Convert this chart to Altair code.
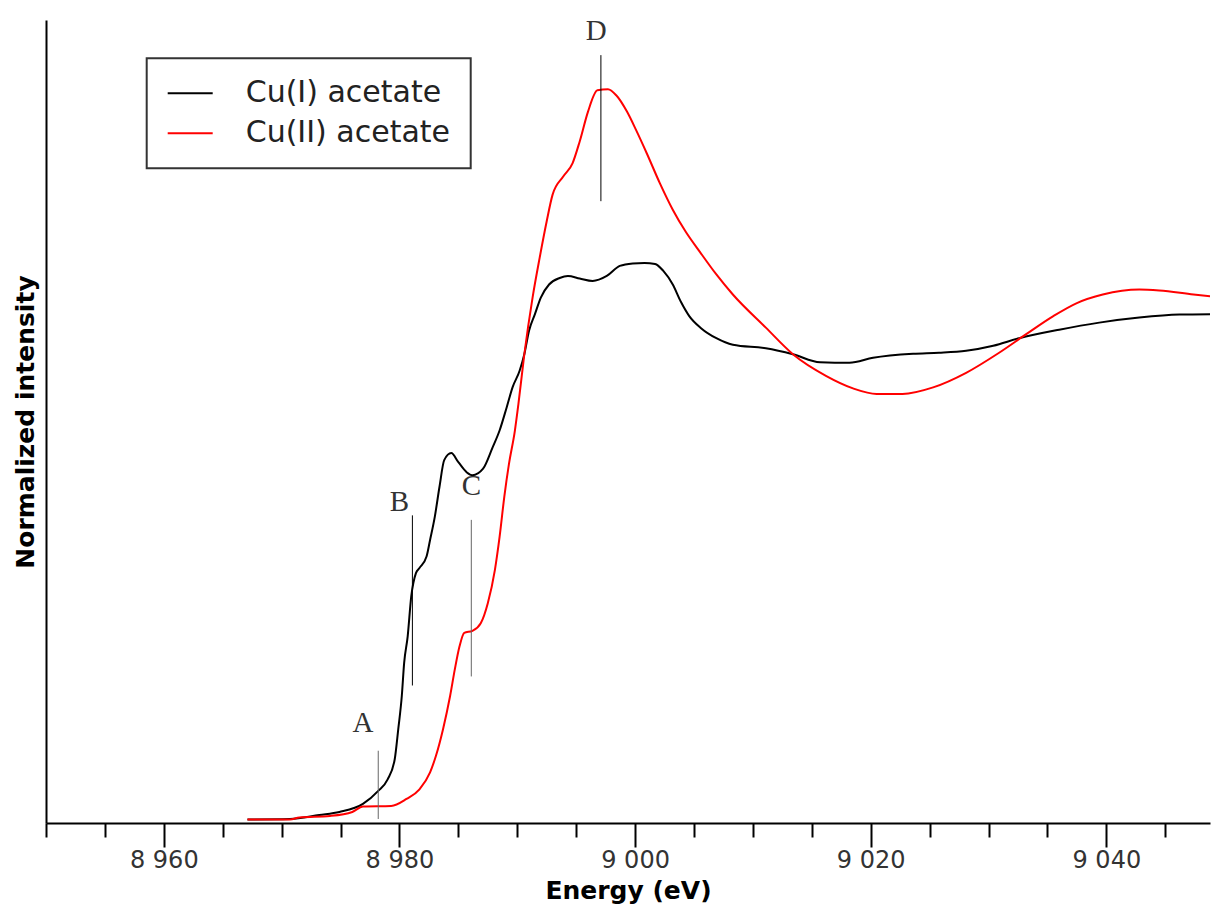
import altair as alt
import pandas as pd

# Cu(I) acetate spectrum (energy in eV, normalized intensity)
cu1_energy = [8967.1, 8970.7, 8973.2, 8974.9, 8976.9, 8978.2, 8979.0, 8979.6, 8979.9, 8980.2,
              8980.4, 8980.7, 8981.0, 8981.4, 8981.7, 8982.3, 8982.6, 8983.0, 8983.4, 8983.8,
              8984.4, 8985.0, 8985.7, 8986.2, 8987.1, 8987.9, 8988.5, 8989.1, 8989.6, 8990.2,
              8990.6, 8991.0, 8991.5, 8992.0, 8992.7, 8993.6, 8994.3, 8995.3, 8996.4, 8997.6,
              8998.7, 8999.8, 9000.8, 9001.7, 9002.4, 9003.2, 9003.9, 9004.6, 9005.6, 9006.9,
              9008.3, 9011.1, 9013.4, 9015.7, 9018.2, 9020.2, 9023.6, 9025.8, 9028.1, 9030.4,
              9032.6, 9036.0, 9039.4, 9042.8, 9046.2, 9049.5]
cu1_intensity = [0.007, 0.008, 0.016, 0.022, 0.038, 0.064, 0.087, 0.127, 0.187, 0.253,
                 0.319, 0.372, 0.451, 0.498, 0.508, 0.531, 0.564, 0.610, 0.670, 0.723,
                 0.737, 0.719, 0.699, 0.693, 0.706, 0.748, 0.782, 0.828, 0.868, 0.901,
                 0.934, 0.981, 1.014, 1.047, 1.073, 1.086, 1.090, 1.085, 1.080, 1.090,
                 1.110, 1.115, 1.116, 1.114, 1.100, 1.073, 1.038, 1.010, 0.986, 0.966,
                 0.953, 0.946, 0.934, 0.918, 0.917, 0.927, 0.935, 0.937, 0.941, 0.951,
                 0.966, 0.983, 0.997, 1.007, 1.013, 1.014]

# Cu(II) acetate spectrum
cu2_energy = [8967.1, 8970.7, 8971.5, 8974.1, 8976.0, 8976.9, 8979.3, 8980.6, 8981.7, 8982.6,
              8983.1, 8983.7, 8984.3, 8984.7, 8985.1, 8985.5, 8986.2, 8986.9, 8987.5, 8988.1,
              8988.5, 8988.9, 8989.3, 8989.8, 8990.1, 8990.6, 8991.3, 8991.9, 8992.5, 8993.0,
              8993.9, 8994.7, 8995.3, 8996.0, 8996.8, 8997.7, 8998.4, 8999.3, 9000.1, 9001.0,
              9002.1, 9003.2, 9004.3, 9005.5, 9006.9, 9008.3, 9011.1, 9013.4, 9016.2, 9018.5,
              9020.5, 9022.7, 9025.3, 9028.1, 9030.9, 9033.2, 9035.5, 9037.5, 9039.7, 9042.8,
              9044.5, 9047.4, 9049.5]
cu2_intensity = [0.007, 0.007, 0.011, 0.014, 0.022, 0.033, 0.034, 0.048, 0.067, 0.101,
                 0.134, 0.187, 0.253, 0.306, 0.352, 0.379, 0.383, 0.398, 0.438, 0.504,
                 0.570, 0.650, 0.716, 0.782, 0.835, 0.934, 1.047, 1.126, 1.199, 1.252,
                 1.288, 1.315, 1.358, 1.417, 1.460, 1.462, 1.450, 1.418, 1.380, 1.334,
                 1.275, 1.222, 1.178, 1.138, 1.093, 1.053, 0.987, 0.934, 0.891, 0.866,
                 0.855, 0.855, 0.868, 0.897, 0.937, 0.974, 1.010, 1.036, 1.053, 1.063,
                 1.061, 1.053, 1.048]

series_names = ["Cu(I) acetate", "Cu(II) acetate"]
series_colors = ["#000000", "#ff0000"]

# Feature markers A-D
marker_labels = ["A", "B", "C", "D"]
marker_energy = [8978.2, 8981.1, 8986.1, 8997.1]
marker_low = [0.008, 0.274, 0.292, 1.239]
marker_high = [0.144, 0.613, 0.604, 1.530]
label_energy = [8976.9, 8980.0, 8986.1, 8996.7]
label_intensity = [0.200, 0.640, 0.671, 1.578]

tick_values = list(range(8950, 9050, 5))
x_domain = [8950, 9048.8]
y_domain = [0, 1.6]

df = pd.concat([
    pd.DataFrame({"energy": cu1_energy, "intensity": cu1_intensity, "sample": series_names[0]}),
    pd.DataFrame({"energy": cu2_energy, "intensity": cu2_intensity, "sample": series_names[1]}),
])
markers = pd.DataFrame({"label": marker_labels, "energy": marker_energy,
                        "low": marker_low, "high": marker_high,
                        "lx": label_energy, "ly": label_intensity})

x_scale = alt.Scale(domain=x_domain, nice=False, zero=False)
y_scale = alt.Scale(domain=y_domain, nice=False, zero=False)

x_axis = alt.Axis(
    values=tick_values,
    tickSize={"condition": {"test": "datum.value % 20 === 0", "value": 24}, "value": 14},
    tickWidth=2, tickColor="black",
    labelExpr="datum.value % 20 === 0 ? replace(format(datum.value, ','), ',', ' ') : ''",
    labelFont="DejaVu Sans", labelFontSize=24, labelColor="#333333", labelPadding=1,
    labelFlush=False, labelOverlap=False,
    domainColor="black", domainWidth=2, grid=False,
    title="Energy (eV)", titleFont="DejaVu Sans", titleFontSize=25,
    titleFontWeight="bold", titleColor="black",
    titleBaseline="alphabetic", titleY=75,
)
y_axis = alt.Axis(
    labels=False, ticks=False, grid=False, domainColor="black", domainWidth=2,
    title="Normalized intensity", titleFont="DejaVu Sans", titleFontSize=25,
    titleFontWeight="bold", titleColor="black", titlePadding=8,
)

lines = alt.Chart(df).mark_line(strokeWidth=2, clip=True, interpolate="monotone").encode(
    x=alt.X("energy:Q", scale=x_scale, axis=x_axis),
    y=alt.Y("intensity:Q", scale=y_scale, axis=y_axis),
    color=alt.Color("sample:N",
                    scale=alt.Scale(domain=series_names, range=series_colors),
                    legend=alt.Legend(orient="none", legendX=100.7, legendY=38.3, title=None,
                                      symbolType="stroke", symbolSize=2025, symbolStrokeWidth=2,
                                      labelFont="DejaVu Sans", labelFontSize=30, labelColor="#222222",
                                      labelLimit=500, labelOffset=32, padding=20, rowPadding=10,
                                      clipHeight=30, strokeColor="#333333", fillColor="white")),
    detail="sample:N",
)

rules_dark = alt.Chart(markers).transform_filter(
    alt.FieldOneOfPredicate(field="label", oneOf=["B", "D"])
).mark_rule(color="black", strokeWidth=1).encode(
    x="energy:Q", y="low:Q", y2="high:Q")
rules_gray = alt.Chart(markers).transform_filter(
    alt.FieldOneOfPredicate(field="label", oneOf=["A", "C"])
).mark_rule(color="#666666", strokeWidth=1).encode(
    x="energy:Q", y="low:Q", y2="high:Q")

letters = alt.Chart(markers).mark_text(
    font="Liberation Serif", fontSize=29, color="#333333", baseline="middle", align="center"
).encode(x="lx:Q", y="ly:Q", text="label:N")

chart = alt.layer(lines, rules_dark, rules_gray, letters).properties(
    width=1164, height=803,
    autosize=alt.AutoSizeParams(type="none"),
    padding={"left": 38, "top": 12, "right": 1, "bottom": 81},
).configure_view(stroke=None).configure_legend(strokeWidth=2)

chart.save("out.html", embed_options={"renderer": "svg", "actions": False})
